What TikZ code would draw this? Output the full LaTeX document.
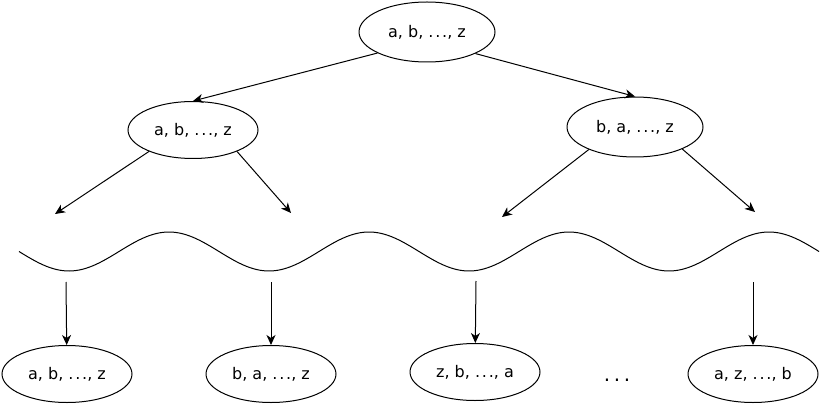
\documentclass[tikz,border=0pt]{standalone}
\usepackage{fontspec}
\setmainfont{DejaVu Sans}
\usetikzlibrary{arrows.meta,shapes.geometric}
\newcommand{\mydots}{.\kern1.8pt.\kern1.8pt.}
\begin{document}
\begin{tikzpicture}[x=1pt,y=-1pt,
  set/.style={draw,ellipse,line width=1pt,inner sep=0pt,font=\fontsize{16}{18}\selectfont},
  arr/.style={line width=1pt,-{Stealth[length=10pt,width=9pt,inset=3pt]}}]
\useasboundingbox (0,0) rectangle (821,406);
\node[set,minimum width=136,minimum height=60] (top) at (427,32) {a, b, \mydots, z};
\node[set,minimum width=130,minimum height=57] (l1) at (193,130) {a, b, \mydots, z};
\node[set,minimum width=136,minimum height=60] (r1) at (635,127) {b, a, \mydots, z};
\node[set,minimum width=130,minimum height=57] (b1) at (67,374) {a, b, \mydots, z};
\node[set,minimum width=130,minimum height=57] (b2) at (271,374) {b, a, \mydots, z};
\node[set,minimum width=130,minimum height=57] (b3) at (475,372) {z, b, \mydots, a};
\node[set,minimum width=130,minimum height=57] (b4) at (753,374) {a, z, \mydots, b};
\node[font=\fontsize{20}{22}\selectfont,anchor=base,inner sep=0pt] (dots) at (617,381) {.\kern3.6pt.\kern3.6pt.};
\coordinate (e1) at (55,214);
\coordinate (e2) at (291,213);
\coordinate (e3) at (502,217);
\coordinate (e4) at (755,212);
\coordinate (s1) at (66,282);
\coordinate (s2) at (271,282);
\coordinate (s3) at (476,281);
\coordinate (s4) at (753,282);
\draw[arr] (top.203) -- (l1.north);
\draw[arr] (top.-24) -- (r1.north);
\draw[arr] (l1.206) -- (e1);
\draw[arr] (l1.-26) -- (e2);
\draw[arr] (r1.206) -- (e3);
\draw[arr] (r1.-25) -- (e4);
\draw[arr] (s1) -- (b1);
\draw[arr] (s2) -- (b2);
\draw[arr] (s3) -- (b3);
\draw[arr] (s4) -- (b4);
\draw[line width=1pt] plot[domain=19:819,samples=240,smooth] (\x,{251.5+19.5*sin(1.8*(\x-19))});
\end{tikzpicture}
\end{document}
